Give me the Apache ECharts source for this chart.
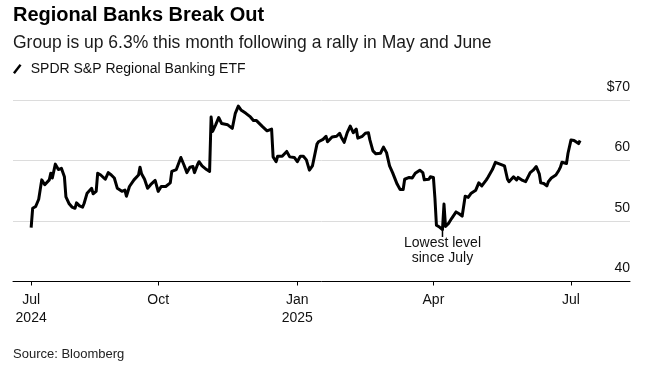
<!DOCTYPE html>
<html>
<head>
<meta charset="utf-8">
<script src="https://cdn.jsdelivr.net/npm/echarts@6/dist/echarts.min.js"></script>
<style>
  html, body { margin: 0; padding: 0; background: #fff; }
  #chart { width: 647px; height: 375px; }
</style>
</head>
<body>
<div id="chart"></div>
<script>
// SPDR S&P Regional Banking ETF
const dates = [
  '2024-07-09', '2024-07-10', '2024-07-12', '2024-07-14', '2024-07-16', '2024-07-18', '2024-07-21', '2024-07-22',
  '2024-07-23', '2024-07-25', '2024-07-27', '2024-07-29', '2024-07-30', '2024-07-31', '2024-08-01', '2024-08-03',
  '2024-08-05', '2024-08-07', '2024-08-08', '2024-08-10', '2024-08-12', '2024-08-13', '2024-08-15', '2024-08-18',
  '2024-08-19', '2024-08-21', '2024-08-22', '2024-08-24', '2024-08-27', '2024-08-29', '2024-08-31', '2024-09-02',
  '2024-09-04', '2024-09-07', '2024-09-09', '2024-09-10', '2024-09-12', '2024-09-15', '2024-09-18', '2024-09-19',
  '2024-09-20', '2024-09-22', '2024-09-24', '2024-09-26', '2024-09-29', '2024-10-01', '2024-10-02', '2024-10-03',
  '2024-10-06', '2024-10-07', '2024-10-09', '2024-10-10', '2024-10-13', '2024-10-16', '2024-10-18', '2024-10-20',
  '2024-10-22', '2024-10-24', '2024-10-25', '2024-10-27', '2024-10-28', '2024-10-30', '2024-11-02', '2024-11-04',
  '2024-11-05', '2024-11-06', '2024-11-08', '2024-11-10', '2024-11-12', '2024-11-16', '2024-11-19', '2024-11-21',
  '2024-11-23', '2024-11-25', '2024-11-28', '2024-12-01', '2024-12-03', '2024-12-05', '2024-12-07', '2024-12-09',
  '2024-12-10', '2024-12-12', '2024-12-15', '2024-12-16', '2024-12-18', '2024-12-19', '2024-12-22', '2024-12-25',
  '2024-12-27', '2024-12-30', '2025-01-01', '2025-01-03', '2025-01-05', '2025-01-07', '2025-01-09', '2025-01-11',
  '2025-01-14', '2025-01-15', '2025-01-18', '2025-01-20', '2025-01-21', '2025-01-24', '2025-01-27', '2025-01-29',
  '2025-01-30', '2025-02-01', '2025-02-03', '2025-02-05', '2025-02-07', '2025-02-09', '2025-02-10', '2025-02-13',
  '2025-02-15', '2025-02-17', '2025-02-18', '2025-02-20', '2025-02-22', '2025-02-25', '2025-02-27', '2025-03-01',
  '2025-03-03', '2025-03-05', '2025-03-08', '2025-03-10', '2025-03-12', '2025-03-13', '2025-03-16', '2025-03-18',
  '2025-03-20', '2025-03-23', '2025-03-25', '2025-03-26', '2025-03-29', '2025-03-30', '2025-04-01', '2025-04-02',
  '2025-04-03', '2025-04-05', '2025-04-07', '2025-04-08', '2025-04-09', '2025-04-11', '2025-04-13', '2025-04-16',
  '2025-04-18', '2025-04-20', '2025-04-22', '2025-04-24', '2025-04-26', '2025-04-27', '2025-04-29', '2025-05-01',
  '2025-05-03', '2025-05-04', '2025-05-06', '2025-05-07', '2025-05-10', '2025-05-12', '2025-05-15', '2025-05-18',
  '2025-05-20', '2025-05-21', '2025-05-24', '2025-05-26', '2025-05-27', '2025-05-30', '2025-05-31', '2025-06-01',
  '2025-06-04', '2025-06-06', '2025-06-08', '2025-06-10', '2025-06-11', '2025-06-13', '2025-06-15', '2025-06-16',
  '2025-06-18', '2025-06-21', '2025-06-23', '2025-06-24', '2025-06-25', '2025-06-28', '2025-06-29', '2025-07-01',
  '2025-07-03', '2025-07-04', '2025-07-06', '2025-07-07'
]
const prices = [
  48.9, 52.1, 52.4, 53.6, 56.8, 56.0, 56.8, 57.9,
  57.1, 59.4, 58.5, 58.7, 58.4, 57.3, 54.0, 52.9,
  52.3, 52.1, 53.0, 52.5, 52.3, 52.9, 54.6, 55.4,
  54.5, 54.9, 57.9, 57.6, 56.9, 58.0, 57.6, 57.1,
  55.4, 54.9, 55.1, 54.1, 55.7, 56.8, 57.6, 58.9,
  57.8, 56.9, 55.4, 56.0, 56.7, 54.9, 54.7, 55.7,
  55.7, 55.4, 56.3, 58.2, 58.5, 60.5, 59.3, 58.0,
  58.9, 59.0, 58.0, 59.3, 59.8, 59.1, 58.5, 58.2,
  67.2, 64.8, 65.9, 67.1, 66.1, 65.9, 65.3, 67.8,
  69.0, 68.3, 67.8, 67.2, 66.6, 66.6, 66.1, 65.6,
  65.9, 64.9, 65.2, 60.6, 59.8, 60.7, 60.7, 61.5,
  60.6, 60.5, 59.8, 60.7, 60.7, 60.1, 58.4, 59.1,
  62.7, 63.1, 63.5, 64.0, 63.1, 63.9, 64.0, 64.5,
  63.9, 63.0, 64.6, 65.7, 64.6, 65.2, 63.7, 64.0,
  64.5, 64.6, 63.4, 61.6, 61.1, 61.2, 62.2, 61.3,
  59.1, 58.0, 56.1, 55.2, 55.2, 56.9, 57.2, 57.1,
  57.9, 58.4, 58.0, 56.8, 56.9, 57.3, 57.2, 53.8,
  49.3, 49.0, 48.6, 52.8, 49.1, 49.6, 50.4, 51.5,
  51.2, 50.8, 54.1, 53.9, 54.6, 54.3, 55.1, 56.3,
  55.8, 55.6, 56.8, 57.2, 58.5, 59.7, 59.4, 59.1,
  56.9, 56.5, 57.3, 56.8, 57.2, 56.7, 56.9, 56.5,
  58.0, 58.4, 59.0, 57.8, 56.3, 56.2, 55.8, 56.5,
  57.1, 57.6, 58.4, 58.9, 59.7, 59.5, 61.2, 63.4,
  63.3, 63.0, 62.8, 63.3
]
const xTicks = ['2024-07-09', '2024-10-01', '2025-01-01', '2025-04-01', '2025-07-01']
const monthNames = ['Jan', 'Feb', 'Mar', 'Apr', 'May', 'Jun', 'Jul', 'Aug', 'Sep', 'Oct', 'Nov', 'Dec']
const yTicks = [40, 50, 60, 70]

const seriesName = 'SPDR S&P Regional Banking ETF'
const lowIdx = prices.indexOf(Math.min(...prices))
const font = "'Liberation Sans', Arial, Helvetica, sans-serif"
const ts = d => Date.parse(d + 'T00:00:00Z')

const chart = echarts.init(document.getElementById('chart'), null, { renderer: 'canvas' })

const option = {
  backgroundColor: '#fff',
  animation: false,
  textStyle: { fontFamily: font },
  title: [
    {
      text: 'Regional Banks Break Out',
      left: 13, top: 5, padding: 0,
      textStyle: { fontSize: 20, fontWeight: 'bold', color: '#000', fontFamily: font }
    },
    {
      text: 'Group is up 6.3% this month following a rally in May and June',
      left: 13, top: 34, padding: 0,
      textStyle: { fontSize: 17.5, fontWeight: 'normal', color: '#1a1a1a', fontFamily: font }
    },
    {
      text: 'Source: Bloomberg',
      left: 13, top: 348, padding: 0,
      textStyle: { fontSize: 13, fontWeight: 'normal', color: '#222', fontFamily: font }
    }
  ],
  legend: {
    left: 13, top: 62, padding: 0,
    icon: 'path://M0,9 L7,0 L9,1.6 L2,10.6 Z',
    itemWidth: 9, itemHeight: 10,
    textStyle: { fontSize: 14, color: '#111', fontFamily: font, padding: [0, 0, 0, 4] },
    data: [seriesName]
  },
  grid: { left: 13, right: 17, top: 100, bottom: 93.5 },
  xAxis: {
    type: 'value',
    min: ts('2024-06-27'),
    max: ts('2025-08-09'),
    axisLine: { lineStyle: { color: '#000', width: 1 } },
    axisTick: {
      length: 4,
      lineStyle: { color: '#000' },
      customValues: xTicks.map(ts)
    },
    axisLabel: {
      customValues: xTicks.map(ts),
      margin: 10,
      fontSize: 14,
      lineHeight: 18,
      color: '#111',
      fontFamily: font,
      formatter: v => {
        const d = new Date(v)
        const m = monthNames[d.getUTCMonth()]
        if (d.getUTCFullYear() === 2024 && m === 'Jul') return 'Jul\n2024'
        if (m === 'Jan') return 'Jan\n' + d.getUTCFullYear()
        return m
      }
    },
    splitLine: { show: false }
  },
  yAxis: {
    type: 'value',
    position: 'right',
    min: yTicks[0],
    max: yTicks[yTicks.length - 1],
    interval: 10,
    axisLine: { show: false },
    axisTick: { show: false },
    axisLabel: {
      inside: true,
      margin: 0,
      fontSize: 14,
      color: '#111',
      fontFamily: font,
      verticalAlign: 'bottom',
      padding: [0, 0, 6, 0],
      formatter: v => (v === 70 ? '$70' : String(v))
    },
    splitLine: { lineStyle: { color: '#dcdcdc', width: 1 } }
  },
  series: [
    {
      name: seriesName,
      type: 'line',
      data: dates.map((d, i) => [ts(d), prices[i]]),
      showSymbol: false,
      symbol: 'none',
      lineStyle: { color: '#000', width: 3, join: 'round' },
      itemStyle: { color: '#000' },
      markPoint: {
        symbol: 'rect',
        symbolSize: [1.5, 7],
        symbolOffset: [0, 4],
        itemStyle: { color: '#000' },
        label: {
          show: true,
          position: 'bottom',
          distance: -1,
          fontSize: 14,
          lineHeight: 15,
          color: '#111',
          fontFamily: font,
          formatter: 'Lowest level\nsince July'
        },
        data: [{ coord: [ts(dates[lowIdx]), prices[lowIdx]] }]
      }
    }
  ]
}

chart.setOption(option)
</script>
</body>
</html>
